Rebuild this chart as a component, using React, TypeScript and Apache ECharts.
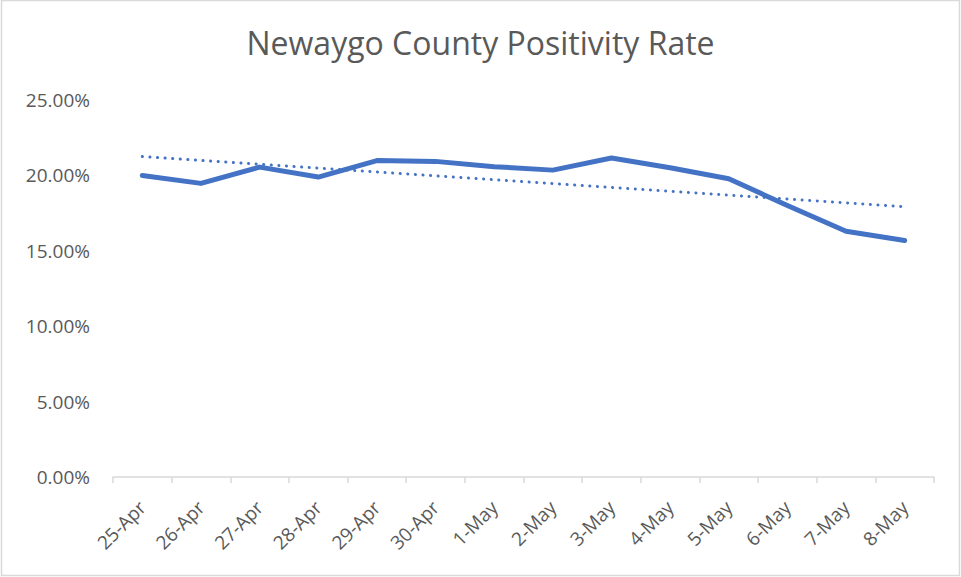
import React, { useEffect, useRef } from "react";
import * as echarts from "echarts";

const categories = ["25-Apr", "26-Apr", "27-Apr", "28-Apr", "29-Apr", "30-Apr", "1-May", "2-May", "3-May", "4-May", "5-May", "6-May", "7-May", "8-May"];
const positivity = [20.0, 19.47, 20.55, 19.89, 20.98, 20.93, 20.58, 20.35, 21.15, 20.51, 19.78, 18.0, 16.3, 15.68];
const trendEnds = [21.25, 17.92];
const yTicks = { min: 0, max: 25, interval: 5 };

export default function App() {
  const ref = useRef<HTMLDivElement>(null);
  useEffect(() => {
    if (!ref.current) return;
    const chart = echarts.init(ref.current, null, { renderer: "svg" });
    const font = "Open Sans";
    chart.setOption({
      animation: false,
      backgroundColor: "#ffffff",
      title: {
        text: "Newaygo County Positivity Rate",
        left: "center",
        top: 21,
        textStyle: { fontFamily: font, fontSize: 32, fontWeight: "normal", color: "#595959" },
      },
      grid: { left: 113, right: 27, top: 100, bottom: 100, containLabel: false },
      xAxis: {
        type: "category",
        data: categories,
        boundaryGap: true,
        axisLine: { show: true, lineStyle: { color: "#d9d9d9", width: 1.5 } },
        axisTick: { show: true, length: 6, lineStyle: { color: "#d9d9d9", width: 1.5 } },
        axisLabel: { rotate: 45, margin: 27, fontFamily: font, fontSize: 19, color: "#595959" },
      },
      yAxis: {
        type: "value",
        min: yTicks.min,
        max: yTicks.max,
        interval: yTicks.interval,
        axisLine: { show: false },
        axisTick: { show: false },
        splitLine: { show: false },
        axisLabel: {
          margin: 23,
          fontFamily: font,
          fontSize: 19,
          color: "#595959",
          formatter: (v: number) => v.toFixed(2) + "%",
        },
      },
      series: [
        {
          type: "line",
          data: positivity,
          symbol: "none",
          lineStyle: { color: "#4472C4", width: 5, cap: "round", join: "round" },
          z: 3,
        },
        {
          type: "line",
          data: [[0, trendEnds[0]], [categories.length - 1, trendEnds[1]]],
          symbol: "none",
          lineStyle: { color: "#4472C4", width: 3, type: [0.1, 7.5], cap: "round" },
          z: 2,
        },
      ],
      graphic: [
        {
          type: "rect",
          shape: { x: 1.5, y: 0.5, width: 958, height: 575 },
          style: { fill: "none", stroke: "#d9d9d9", lineWidth: 1.5 },
          silent: true,
        },
      ],
    });
    return () => chart.dispose();
  }, []);
  return <div ref={ref} style={{ position: "absolute", left: 0, top: 0, width: 961, height: 577 }} />;
}
